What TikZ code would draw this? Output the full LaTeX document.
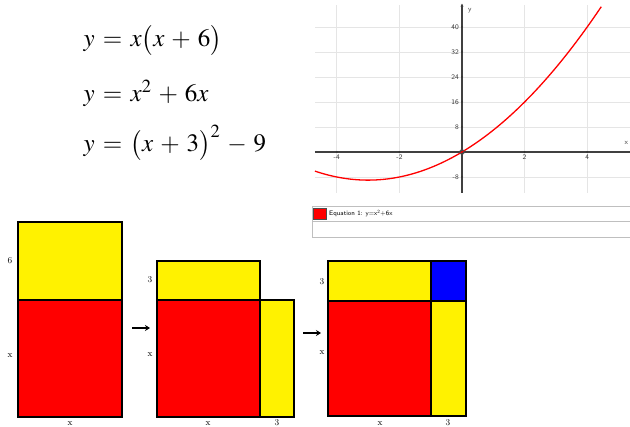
\documentclass[tikz,border=0pt]{standalone}
\usepackage{amsmath,amssymb,tikz,mathptmx}
\usetikzlibrary{arrows.meta,positioning}

\tikzset{
  bloc/.style={draw=black,line width=1.2pt},
  cote/.style={font=\fontsize{9}{10}\selectfont},
  grille/.style={draw=black!10,line width=0.9pt},
  axe/.style={draw=black!75,line width=1.1pt},
  graduation/.style={font=\sffamily\fontsize{7}{8}\selectfont,text=black!80,inner sep=1pt},
  fleche/.style={line width=1.6pt,-{Stealth[length=5pt,width=6pt]}},
  equation/.style={anchor=base west,font=\fontsize{25}{28}\selectfont}
}

\begin{document}
\begin{tikzpicture}[x=1pt,y=-1pt]
    \useasboundingbox (0,0) rectangle (630,427);

    % Equations
    \begingroup
    \thickmuskip=6mu \medmuskip=5mu
    \node[equation] (eqA) at (80,47) {$y=x\bigl(x+6\bigr)$};
    \node[equation] (eqB) at (80,102) {$y=x^2+6x$};
    \node[equation] (eqC) at (80,152) {$y=\bigl(x+3\bigr)^2-9$};
    \endgroup

    % Graphique
    \begin{scope}[xshift=462pt,yshift=-152pt,x=31.3pt,y=3.125pt]
        % Grille
        \foreach \gx in {-4,-2,2,4}
            \draw[grille] (\gx,-13) -- (\gx,47);
        \foreach \gy in {-8,8,16,24,32,40}
            \draw[grille] (-4.7,\gy) -- (5.37,\gy);

        % Axes
        \draw[axe] (-4.7,0) -- (5.37,0);
        \draw[axe,-{Stealth[length=3pt,width=3pt]}] (0,-13) -- (0,47.5);
        \node[graduation] (lx) at (5.25,3) {x};
        \node[graduation] (ly) at (0.25,45.3) {y};

        % Graduations
        \foreach \gx in {-4,-2,2,4} {
            \fill[black!80] (\gx,0) circle (1pt);
            \node[graduation,below=2pt] (tx\gx) at (\gx,0) {\gx};
        }
        \foreach \gy in {-8,8,16,24,32,40} {
            \fill[black!80] (0,\gy) circle (1pt);
            \node[graduation,left=2pt] (ty\gy) at (0,\gy) {\gy};
        }

        % Courbe
        \draw[red,line width=1.3pt,samples=80,domain=-4.7:4.45]
            plot (\x,{\x*\x+6*\x});
        \draw[black!70,line width=0.8pt] (0,0) circle (2.3pt);
    \end{scope}

    % Legende
    \draw[black!25,line width=0.8pt] (312,206) rectangle (632,237);
    \draw[black!25,line width=0.6pt] (312,221) -- (632,221);
    \draw[fill=red,draw=black!70,line width=0.6pt] (313,208) rectangle (326,219);
    \node[anchor=west,font=\sffamily\fontsize{6.5}{7}\selectfont,inner sep=1pt] (leg) at (328,213.5) {Equation 1: y=x\textsuperscript{2}+6x};

    % Premier rectangle
    \filldraw[bloc,fill=yellow] (18,222) rectangle (122,300);
    \filldraw[bloc,fill=red] (18,300) rectangle (122,417);
    \node[cote] (a6) at (10,261) {6};
    \node[cote] (ax) at (10,356) {x};
    \node[cote,anchor=base] (abx) at (70,425.5) {x};

    % Fleche 1
    \coordinate (f1a) at (132,328);
    \coordinate (f1b) at (150,328);
    \draw[fleche] (f1a) -- (f1b);

    % Deuxieme figure
    \filldraw[bloc,fill=yellow] (157,261) rectangle (260,300);
    \filldraw[bloc,fill=red] (157,300) rectangle (260,417);
    \filldraw[bloc,fill=yellow] (260,300) rectangle (294,417);
    \node[cote] (b3) at (150,280) {3};
    \node[cote] (bx) at (150,355) {x};
    \node[cote,anchor=base] (bbx) at (208,425.5) {x};
    \node[cote,anchor=base] (bb3) at (277,425.5) {3};

    % Fleche 2
    \coordinate (f2a) at (303,333);
    \coordinate (f2b) at (321,333);
    \draw[fleche] (f2a) -- (f2b);

    % Troisieme figure
    \filldraw[bloc,fill=yellow] (328,261) rectangle (431,301);
    \filldraw[bloc,fill=blue] (431,261) rectangle (466,301);
    \filldraw[bloc,fill=red] (328,301) rectangle (431,416);
    \filldraw[bloc,fill=yellow] (431,301) rectangle (466,416);
    \node[cote] (c3) at (322,282) {3};
    \node[cote] (cx) at (322,353) {x};
    \node[cote,anchor=base] (cbx) at (380,425.5) {x};
    \node[cote,anchor=base] (cb3) at (448,425.5) {3};
\end{tikzpicture}
\end{document}
